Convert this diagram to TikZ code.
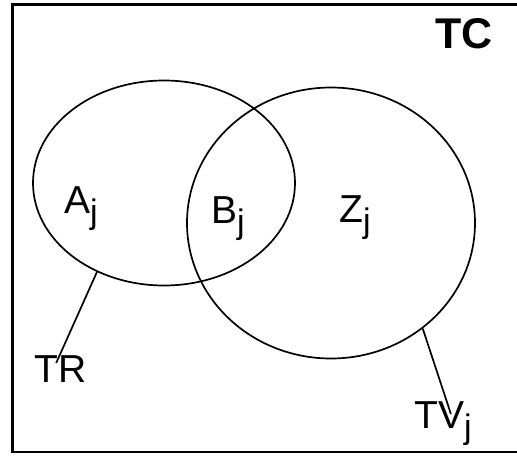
\documentclass[tikz,border=0pt]{standalone}
\usepackage{fontspec}
\setmainfont{Liberation Sans}
\usetikzlibrary{shapes.geometric}
\newcommand{\subj}{\raisebox{-10pt}{\fontsize{34}{40}\selectfont j}}
\begin{document}
\begin{tikzpicture}[x=1pt,y=-1pt,
    venn/.style={draw, ellipse, line width=1.7pt, inner sep=0pt},
    lbl/.style={font=\fontsize{39}{44}\selectfont, inner sep=0pt, anchor=base west}]
    \useasboundingbox (0,0) rectangle (517,461);
    % 全集边框
    \draw[line width=2.5pt] (12.5,4.3) rectangle (522,452);
    \node[lbl, font=\fontsize{43}{48}\selectfont\bfseries] (tc) at (435,48) {TC};
    % 两个集合
    \node[venn, minimum width=262pt, minimum height=205pt] (tr) at (164,183) {};
    \node[venn, minimum width=288pt, minimum height=271pt] (tv) at (331,223) {};
    % 区域
    \node[lbl] (a) at (64,213) {A\subj};
    \node[lbl] (b) at (211,223) {B\subj};
    \node[lbl] (z) at (339,222) {Z\subj};
    % 集合名称
    \node[lbl] (trlbl) at (34,382) {TR};
    \node[lbl] (tvlbl) at (414,428) {TV\subj};
    \draw[line width=1.7pt] (tr.233) -- ([xshift=-4pt,yshift=-8pt]trlbl.north);
    \draw[line width=1.7pt] (tv.311.6) -- ([xshift=8pt,yshift=-13pt]tvlbl.north);
\end{tikzpicture}
\end{document}
